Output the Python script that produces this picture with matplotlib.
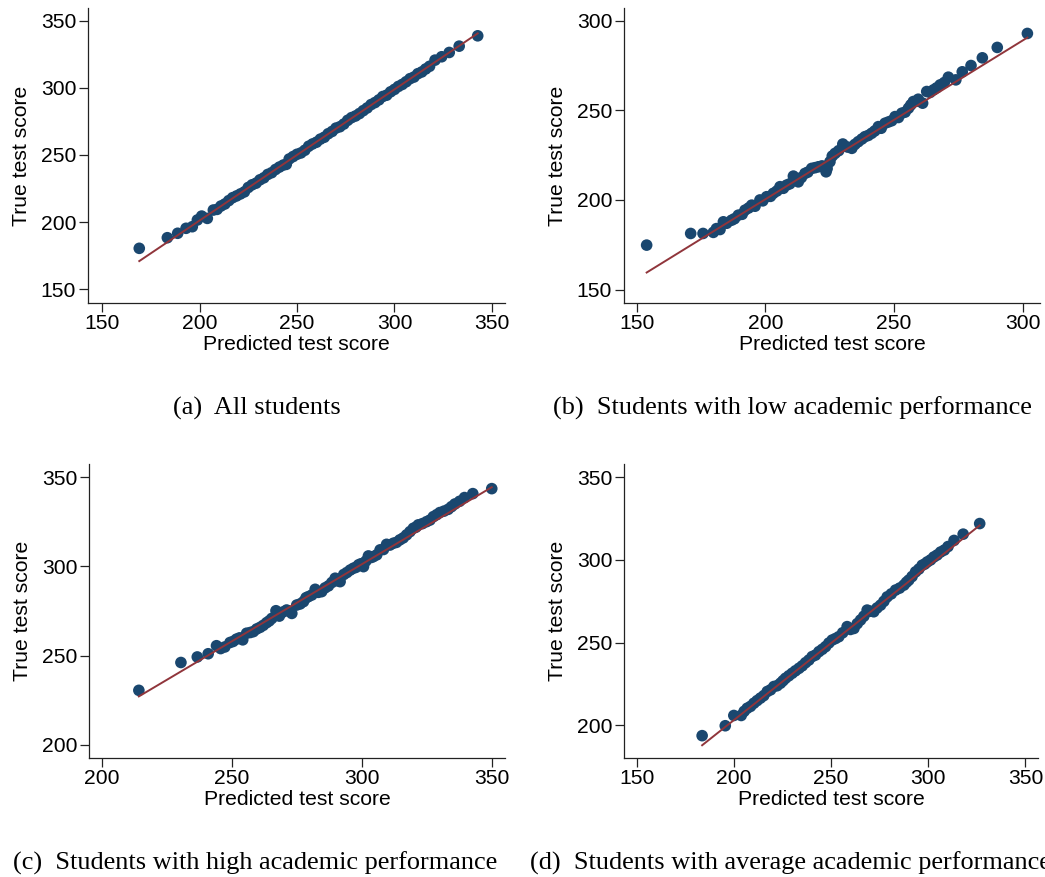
import matplotlib
matplotlib.use("Agg")
import matplotlib.pyplot as plt

# ---------------- data ----------------
a_x = [169.1, 183.5, 188.8, 193.1, 196.3, 198.9, 201.1, 204.0, 207.1, 209.0,
       211.0, 213.0, 215.0, 217.0, 219.0, 221.0, 223.0, 225.0, 227.0, 229.0,
       231.0, 233.0, 235.0, 237.0, 239.0, 241.0, 243.0, 244.5, 246.0, 248.0,
       250.0, 252.0, 254.0, 256.0, 258.0, 260.0, 262.0, 264.0, 266.0, 268.0,
       270.0, 272.0, 274.0, 276.0, 278.0, 280.0, 282.0, 284.0, 286.0, 288.0,
       290.0, 292.0, 294.0, 296.0, 298.0, 300.0, 302.0, 304.0, 306.0, 308.0,
       310.0, 312.0, 314.0, 316.0, 318.0, 320.8, 324.2, 328.1, 333.2, 342.7]
a_y = [180.5, 188.4, 191.7, 195.4, 196.6, 201.6, 204.5, 202.8, 209.0, 209.5,
       212.0, 213.5, 216.0, 218.2, 219.5, 221.0, 222.5, 225.8, 227.8, 229.0,
       231.5, 233.0, 235.5, 236.8, 239.2, 241.0, 242.5, 243.0, 247.0, 248.8,
       250.5, 251.5, 253.5, 256.5, 258.2, 259.5, 261.8, 263.2, 265.8, 267.5,
       270.0, 271.0, 273.0, 275.8, 277.8, 279.0, 280.8, 283.0, 285.0, 287.5,
       289.0, 291.0, 293.5, 294.5, 297.0, 298.8, 301.0, 302.5, 304.5, 306.8,
       308.0, 310.5, 311.8, 314.0, 316.0, 320.6, 323.1, 326.3, 331.0, 338.7]
a_fit_x = [169.1, 342.7]
a_fit_y = [171.0, 340.5]

b_x = [153.9, 171.0, 175.8, 179.8, 181.0, 182.4, 183.7, 185.0, 186.9, 188.0,
       189.5, 191.0, 192.1, 193.5, 194.7, 196.0, 197.9, 199.0, 200.5, 202.0,
       203.1, 204.5, 205.7, 207.0, 208.3, 209.5, 210.9, 212.8, 214.0, 215.4,
       216.5, 218.0, 219.3, 220.6, 222.0, 223.6, 224.0, 225.1, 226.0, 227.1,
       228.5, 230.1, 232.0, 233.6, 234.8, 236.1, 237.5, 238.7, 240.0, 241.3,
       242.5, 243.9, 245.0, 246.5, 247.8, 249.1, 250.4, 251.7, 253.0, 254.3,
       255.6, 256.5, 257.5, 258.5, 259.4, 261.1, 262.7, 264.0, 265.3, 266.5,
       267.9, 269.5, 271.1, 274.0, 276.5, 279.9, 284.3, 290.1, 301.8]
b_y = [174.8, 181.3, 181.3, 181.9, 184.0, 183.5, 187.8, 187.0, 188.7, 189.5,
       191.5, 192.0, 194.3, 195.5, 197.1, 196.5, 200.0, 199.5, 201.8, 202.0,
       203.7, 205.0, 207.4, 206.5, 208.3, 209.0, 213.3, 210.1, 212.5, 214.8,
       215.5, 217.6, 218.0, 218.5, 219.0, 215.7, 217.5, 221.3, 224.5, 226.0,
       227.5, 231.2, 229.5, 228.8, 231.0, 232.5, 234.0, 235.3, 236.0, 237.2,
       238.5, 240.9, 240.0, 242.8, 243.5, 244.2, 246.5, 246.0, 248.4, 249.0,
       251.2, 253.0, 254.9, 255.0, 256.2, 254.0, 260.5, 260.0, 261.4, 262.5,
       264.2, 265.5, 268.5, 267.0, 271.5, 275.0, 279.3, 285.1, 292.9]
b_fit_x = [153.9, 301.8]
b_fit_y = [159.5, 290.6]

c_x = [214.1, 230.3, 236.6, 240.8, 244.0, 245.6, 247.2, 249.2, 250.4, 251.7,
       252.9, 254.1, 255.6, 257.0, 258.2, 259.5, 260.8, 262.0, 263.3, 264.3,
       265.3, 266.9, 267.5, 268.2, 269.6, 271.0, 272.0, 273.0, 274.9, 276.2,
       277.5, 278.5, 279.4, 280.7, 282.0, 283.2, 284.5, 285.8, 287.1, 288.4,
       289.7, 290.6, 291.6, 293.0, 294.2, 295.5, 296.7, 297.7, 298.7, 299.6,
       300.6, 301.5, 302.5, 303.5, 304.4, 305.7, 307.0, 308.3, 309.5, 310.8,
       312.1, 313.3, 314.6, 315.9, 317.2, 318.5, 319.8, 320.8, 321.7, 323.3,
       324.9, 326.2, 327.5, 328.8, 330.0, 331.6, 333.2, 334.5, 335.8, 337.6,
       339.5, 342.7, 350.0]
c_y = [230.6, 246.2, 249.3, 251.1, 255.6, 254.0, 254.9, 257.4, 258.0, 259.3,
       260.0, 258.9, 262.6, 263.0, 263.5, 265.0, 265.9, 267.0, 268.5, 269.5,
       270.9, 275.2, 273.0, 272.2, 274.5, 275.6, 275.0, 273.7, 278.4, 279.0,
       280.3, 282.5, 283.1, 284.0, 287.2, 285.5, 285.9, 288.0, 289.1, 291.0,
       293.4, 292.0, 291.5, 295.5, 296.6, 298.0, 299.0, 299.5, 300.9, 301.5,
       299.9, 303.0, 305.9, 305.0, 305.5, 306.5, 309.3, 309.5, 312.4, 312.0,
       313.0, 313.5, 314.9, 316.0, 317.7, 319.5, 321.4, 322.0, 323.3, 324.0,
       325.1, 326.0, 327.9, 329.0, 330.2, 331.0, 332.0, 333.5, 335.0, 336.5,
       338.6, 340.8, 343.6]
c_fit_x = [214.1, 350.0]
c_fit_y = [227.2, 344.4]

d_x = [183.7, 195.6, 200.0, 203.8, 205.3, 206.9, 208.6, 210.3, 212.0, 213.7,
       215.4, 217.2, 218.9, 220.6, 222.3, 224.0, 225.3, 226.6, 228.3, 230.0,
       231.7, 233.5, 235.2, 236.9, 238.6, 240.3, 242.0, 243.8, 245.5, 247.2,
       248.9, 250.6, 252.3, 254.0, 256.0, 258.3, 260.0, 261.8, 263.5, 265.2,
       266.9, 268.6, 270.3, 272.0, 273.7, 275.5, 277.2, 278.9, 281.0, 283.2,
       285.3, 287.5, 288.8, 290.0, 291.7, 293.5, 295.2, 296.9, 298.2, 299.5,
       301.2, 302.9, 304.6, 306.4, 308.3, 310.2, 313.3, 318.0, 326.5]
d_y = [193.8, 199.8, 206.0, 206.0, 208.5, 210.4, 211.5, 213.4, 215.0, 216.5,
       218.0, 220.5, 221.5, 223.5, 224.0, 225.5, 227.0, 228.5, 230.0, 231.5,
       233.0, 234.5, 236.0, 237.9, 239.5, 241.6, 242.5, 244.6, 246.0, 247.6,
       249.8, 251.6, 252.5, 253.6, 256.0, 259.7, 258.0, 258.6, 261.5, 263.7,
       266.0, 269.7, 269.0, 268.7, 271.0, 272.7, 275.0, 277.7, 279.5, 281.8,
       283.0, 284.8, 286.5, 287.8, 290.0, 292.8, 294.5, 296.8, 297.5, 298.8,
       300.0, 301.8, 303.0, 304.8, 306.0, 308.1, 311.8, 315.6, 322.0]
d_fit_x = [183.7, 326.5]
d_fit_y = [188.0, 320.9]

x_label = "Predicted test score"
y_label = "True test score"
captions = ["(a)  All students",
            "(b)  Students with low academic performance",
            "(c)  Students with high academic performance",
            "(d)  Students with average academic performance"]

# ---------------- styling / layout ----------------
W, H = 1045, 877
DOT = "#1a476f"
FIT = "#90353b"
plt.rcParams["font.family"] = ["Liberation Sans", "DejaVu Sans"]

fig = plt.figure(figsize=(W / 100, H / 100), dpi=100)
fig.patch.set_facecolor("white")

def px_axes(l, t, r, b):
    return fig.add_axes([l / W, 1 - b / H, (r - l) / W, (b - t) / H])

panels = [
    dict(rect=(88, 8, 505, 303), x=a_x, y=a_y, fx=a_fit_x, fy=a_fit_y,
         xlim=(142.8, 356.7), ylim=(139.8, 359.4),
         xt=[150, 200, 250, 300, 350], yt=[150, 200, 250, 300, 350]),
    dict(rect=(624, 8, 1040, 303), x=b_x, y=b_y, fx=b_fit_x, fy=b_fit_y,
         xlim=(145.1, 306.7), ylim=(142.5, 307.1),
         xt=[150, 200, 250, 300], yt=[150, 200, 250, 300]),
    dict(rect=(89, 464, 505, 758), x=c_x, y=c_y, fx=c_fit_x, fy=c_fit_y,
         xlim=(194.9, 355.1), ylim=(192.7, 357.4),
         xt=[200, 250, 300, 350], yt=[200, 250, 300, 350]),
    dict(rect=(624, 464, 1038, 758), x=d_x, y=d_y, fx=d_fit_x, fy=d_fit_y,
         xlim=(143.5, 356.5), ylim=(180.3, 358.0),
         xt=[150, 200, 250, 300, 350], yt=[200, 250, 300, 350]),
]

for p in panels:
    ax = px_axes(*p["rect"])
    ax.scatter(p["x"], p["y"], s=70, color=DOT, edgecolors="none", zorder=2,
               clip_on=False)
    ax.plot(p["fx"], p["fy"], color=FIT, lw=1.4, zorder=3)
    ax.set_xlim(*p["xlim"])
    ax.set_ylim(*p["ylim"])
    ax.set_xticks(p["xt"])
    ax.set_yticks(p["yt"])
    for s in ("top", "right"):
        ax.spines[s].set_visible(False)
    for s in ("left", "bottom"):
        ax.spines[s].set_color("#222222")
        ax.spines[s].set_linewidth(0.9)
    ax.tick_params(axis="both", direction="out", length=6.5, width=0.9,
                   color="#222222", labelsize=15.2, labelcolor="black")
    ax.tick_params(axis="x", pad=1.5)
    ax.tick_params(axis="y", pad=2)
    ax.set_xlabel(x_label, fontsize=15.2, labelpad=1.5)
    ax.set_ylabel(y_label, fontsize=15.2, labelpad=7)

cap_pos = [(173, 415), (553, 415), (13, 870), (530, 870)]
cap_texts = []
for (cx, cy), txt in zip(cap_pos, captions):
    t = fig.text(cx / W, 1 - cy / H, txt, ha="left", va="baseline",
                 fontsize=17, family=["Liberation Serif"], color="black")
    cap_texts.append(t)

# scale caption size so caption (b) spans ~479 px like the reference
fig.canvas.draw()
r = fig.canvas.get_renderer()
wb = cap_texts[1].get_window_extent(r).width
fs = 17 * 479.0 / wb
for t in cap_texts:
    t.set_fontsize(fs)

fig.savefig("out.png", dpi=100, facecolor="white")
